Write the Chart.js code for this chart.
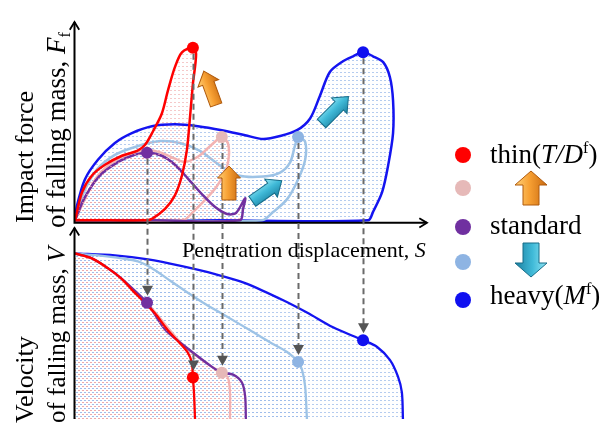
<!DOCTYPE html>
<html>
<head>
<meta charset="utf-8">
<script src="https://cdn.jsdelivr.net/npm/chart.js@4.4.1/dist/chart.umd.min.js"></script>
<style>
  html, body { margin: 0; padding: 0; background: #fff; }
  #wrap { position: relative; width: 610px; height: 425px; }
  canvas { display: block; }
</style>
</head>
<body>
<div id="wrap"><canvas id="c" width="610" height="425" style="width:610px;height:425px"></canvas></div>
<script>
// Five falling-mass cases, from thin (top of legend) to heavy (bottom).
const caseNames = ['thin', 'thin-standard', 'standard', 'standard-heavy', 'heavy'];

// Force–displacement loops [S, Ff] (normalised, thin peak = 100).
const forceThin = [[0,0],[2.0,16.3],[4.8,26.0],[8.5,32.2],[13.3,37.4],[17.6,40.2],[19.8,43.6],[22.1,51.6],[24.6,61.9],[26.3,75.0],[28.3,88.7],[30.3,97.3],[33.4,100],[34.3,96.3],[33.4,79.0],[32.6,60.2],[31.7,40.8],[30.3,26.0],[28.3,14.5],[25.5,6.6],[21.8,0.9],[19.8,0],[10,0],[0,0]];
const forceThinStd = [[0,0],[2.8,12.3],[6.5,26.0],[11.3,34.5],[16.1,39.1],[20.7,40.8],[24.6,39.1],[28.3,35.7],[31.2,33.9],[34.8,36.8],[37.7,41.9],[40.2,46.5],[41.6,48.2],[43.3,44.8],[43.6,37.4],[42.8,29.4],[40.2,19.7],[36.8,11.7],[33.4,4.8],[30.6,0],[15,0],[0,0]];
const forceStandard = [[0,0],[2.8,13.4],[7.1,26.0],[11.9,33.4],[16.1,37.4],[20.4,39.1],[24.6,37.4],[28.3,32.2],[32.0,24.2],[36.0,15.1],[39.7,7.7],[43.1,3.7],[45.6,4.3],[48.2,12.8],[47.6,6.6],[46.7,0],[23,0],[0,0]];
const forceStdHeavy = [[0,0],[2.5,16.3],[6.2,29.4],[11.3,37.9],[17.0,42.5],[24.1,45.9],[29.7,44.8],[35.4,40.2],[41.1,31.7],[46.2,26.0],[53.3,25.4],[58.1,27.7],[60.9,33.4],[62.3,43.1],[63.2,48.2],[65.2,45.4],[65.2,35.1],[63.2,23.7],[60.1,12.3],[56.1,4.8],[53.0,0],[26,0],[0,0]];
const forceHeavy = [[0,0],[0.5,8.0],[2.8,23.7],[6.5,35.1],[11.3,44.8],[16.1,50.5],[21.8,54.5],[28.3,55.6],[34.8,54.5],[41.6,52.2],[48.2,49.3],[53.3,47.1],[58.1,48.8],[62.9,52.2],[66.6,59.0],[69.4,72.2],[72.2,85.9],[75.9,92.1],[78.8,95.0],[81.6,97.3],[84.4,95.0],[87.3,91.6],[89.2,83.0],[90.1,69.3],[90.1,50.5],[88.7,31.7],[87.0,16.3],[84.4,4.8],[83.0,0],[40,0],[0,0]];

// Velocity–displacement curves [S, V] (normalised, impact velocity = 100).
const velThin = [[0,100],[4.8,97.0],[9.3,91.1],[13.3,84.5],[16.4,77.4],[19.8,70.2],[22.7,63.7],[26.3,53.6],[29.7,45.8],[32.0,39.9],[33.1,33.9],[33.4,25.0],[33.7,16.1],[34.0,0]];
const velThinStd = [[0,100],[4.8,97.0],[9.3,91.1],[13.3,84.5],[16.7,77.4],[20.1,70.8],[23.5,62.5],[26.9,53.6],[30.6,44.6],[34.8,37.5],[38.8,31.5],[41.6,28.0],[43.3,25.0],[43.9,16.1],[43.9,0]];
const velStandard = [[0,100],[4.2,97.6],[8.5,92.3],[12.7,85.7],[17.0,77.4],[20.4,70.2],[25.5,54.0],[31.4,43.5],[38.8,31.5],[41.6,28.0],[44.8,26.8],[47.3,22.0],[48.2,13.7],[48.4,0]];
const velStdHeavy = [[0,100],[6.5,98.8],[13.3,97.0],[17.8,95.2],[21.8,91.1],[26.3,84.5],[31.2,77.4],[36.8,69.6],[42.5,62.5],[49.6,53.6],[55.2,46.4],[60.1,40.5],[63.2,34.5],[64.3,29.8],[65.2,19.6],[65.7,0]];
const velHeavy = [[0,100],[11.3,98.8],[20.7,96.4],[30.3,92.3],[39.7,87.5],[48.2,82.1],[58.1,72.6],[65.7,64.3],[73.1,55.4],[81.6,47.6],[85.6,43.5],[89.2,35.7],[91.5,25.6],[92.6,16.1],[92.9,0]];

// Peak force and the velocity at that same displacement.
const peakS = [33.4, 41.6, 20.4, 63.2, 81.6];
const peakF = [100, 48.2, 39.1, 48.2, 97.3];
const peakV = [25.0, 28.0, 70.2, 34.5, 47.6];

const lineColors = ['#ff0000', '#f3b3b3', '#7030a0', '#9dc3e6', '#1414f0'];
const dotColors  = ['#ff0000', '#e6b9b8', '#7030a0', '#8eb4e3', '#1010f0'];

const forceSets = [forceThin, forceThinStd, forceStandard, forceStdHeavy, forceHeavy];
const velSets   = [velThin, velThinStd, velStandard, velStdHeavy, velHeavy];

const SERIF = '"Liberation Serif", "Times New Roman", serif';
const canvas = document.getElementById('c');
const ctx0 = canvas.getContext('2d');

// Dotted hatch used inside the loops and under the velocity curves.
function dotPattern(color, ox, oy) {
  const t = document.createElement('canvas');
  t.width = 4; t.height = 4;
  const g = t.getContext('2d');
  g.fillStyle = color;
  g.fillRect(ox, oy, 2, 1);
  return ctx0.createPattern(t, 'repeat');
}
const redDots = dotPattern('rgba(238,165,165,0.6)', 2, 2);
const blueDots = dotPattern('rgba(150,182,232,0.7)', 0, 0);
const fills = [redDots, redDots, redDots, blueDots, blueDots];

const toXY = a => a.map(([x, y]) => ({ x, y }));
const drawOrder = [0, 2, 1, 3, 4];

const datasets = [
  {
    label: 'peak force',
    data: peakS.map((s, i) => ({ x: s, y: peakF[i] })),
    yAxisID: 'yF', showLine: false,
    pointRadius: 6, pointHoverRadius: 6, pointBorderWidth: 0,
    backgroundColor: dotColors, borderColor: dotColors
  },
  {
    label: 'velocity at peak',
    data: peakS.map((s, i) => ({ x: s, y: peakV[i] })),
    yAxisID: 'yV', showLine: false,
    pointRadius: 6, pointHoverRadius: 6, pointBorderWidth: 0,
    backgroundColor: dotColors, borderColor: dotColors
  }
];
drawOrder.forEach(i => datasets.push({
  label: caseNames[i] + ' force',
  data: toXY(forceSets[i]), yAxisID: 'yF',
  showLine: true, borderColor: lineColors[i], borderWidth: 2.5,
  pointRadius: 0, tension: 0.3, fill: 'shape', backgroundColor: fills[i]
}));
drawOrder.forEach(i => datasets.push({
  label: caseNames[i] + ' velocity',
  data: toXY(velSets[i]), yAxisID: 'yV',
  showLine: true, borderColor: lineColors[i], borderWidth: 2.3,
  pointRadius: 0, tension: 0.3, fill: 'origin', backgroundColor: fills[i]
}));

// Text made of styled runs (italic, sub/superscript).
function drawRuns(ctx, x, y, parts, size) {
  let cx = x;
  for (const p of parts) {
    const s = size * (p.s || 1);
    ctx.font = (p.i ? 'italic ' : '') + s + 'px ' + SERIF;
    ctx.fillText(p.t, cx, y + (p.dy || 0) * size);
    cx += ctx.measureText(p.t).width;
  }
}

function vertical(ctx, x, y, parts, size) {
  ctx.save();
  ctx.translate(x, y);
  ctx.rotate(-Math.PI / 2);
  drawRuns(ctx, 0, 0, parts, size);
  ctx.restore();
}

function blockArrow(ctx, cx, cy, deg, len, headW, shaftW, headLen, pal) {
  ctx.save();
  ctx.translate(cx, cy);
  ctx.rotate(deg * Math.PI / 180);
  const t = -len / 2, b = len / 2, hb = t + headLen;
  ctx.beginPath();
  ctx.moveTo(0, t);
  ctx.lineTo(headW / 2, hb);
  ctx.lineTo(shaftW / 2, hb);
  ctx.lineTo(shaftW / 2, b);
  ctx.lineTo(-shaftW / 2, b);
  ctx.lineTo(-shaftW / 2, hb);
  ctx.lineTo(-headW / 2, hb);
  ctx.closePath();
  const g = ctx.createLinearGradient(-headW / 2, 0, headW / 2, 0);
  g.addColorStop(0, pal[0]);
  g.addColorStop(0.45, pal[1]);
  g.addColorStop(1, pal[2]);
  ctx.fillStyle = g;
  ctx.fill();
  ctx.strokeStyle = pal[3];
  ctx.lineWidth = 1;
  ctx.stroke();
  ctx.restore();
}
const ORANGE = ['#ffd27a', '#f7a033', '#c8690f', '#b05a0c'];
const TEAL = ['#92e6f5', '#40bad8', '#1b7fa0', '#176c88'];

function chevron(ctx, x, y, dx, dy) {
  // open arrow head at (x,y) pointing along (dx,dy)
  const a = Math.atan2(dy, dx), L = 9, w = 0.55;
  ctx.beginPath();
  ctx.moveTo(x - L * Math.cos(a - w), y - L * Math.sin(a - w));
  ctx.lineTo(x, y);
  ctx.lineTo(x - L * Math.cos(a + w), y - L * Math.sin(a + w));
  ctx.stroke();
}

const decor = {
  id: 'decor',
  afterDatasetsDraw(chart) {
    const ctx = chart.ctx;
    const sx = chart.scales.x, yF = chart.scales.yF, yV = chart.scales.yV;
    const ca = chart.chartArea;
    ctx.save();

    // axes
    const ax = sx.getPixelForValue(0) - 0.5;
    const ay = yF.getPixelForValue(0) + 2.5;
    ctx.strokeStyle = '#000';
    ctx.lineWidth = 2;
    ctx.lineCap = 'butt';
    ctx.beginPath();
    ctx.moveTo(ax, ay); ctx.lineTo(ax, ca.top + 2);
    ctx.moveTo(ax - 1, ay); ctx.lineTo(sx.right - 1, ay);
    ctx.moveTo(ax, ca.bottom); ctx.lineTo(ax, ay + 5);
    ctx.stroke();
    ctx.lineWidth = 1.8;
    chevron(ctx, ax, ca.top + 2, 0, -1);
    chevron(ctx, sx.right - 1, ay, 1, 0);
    chevron(ctx, ax, ay + 5, 0, -1);

    // dashed drops from each peak force to the velocity curve
    for (let i = 0; i < peakS.length; i++) {
      const px = Math.round(sx.getPixelForValue(peakS[i])) + 0.5;
      const y0 = yF.getPixelForValue(peakF[i]) + 6;
      const tip = yV.getPixelForValue(peakV[i]) - 7;
      ctx.strokeStyle = '#6a6a6a';
      ctx.lineWidth = 2;
      ctx.setLineDash([6, 4]);
      ctx.beginPath();
      ctx.moveTo(px, y0);
      ctx.lineTo(px, tip - 9);
      ctx.stroke();
      ctx.setLineDash([]);
      ctx.fillStyle = '#555';
      ctx.beginPath();
      ctx.moveTo(px - 5.5, tip - 10);
      ctx.lineTo(px + 5.5, tip - 10);
      ctx.lineTo(px, tip);
      ctx.closePath();
      ctx.fill();
    }

    // trend arrows inside the force plot
    blockArrow(ctx, 210, 88, -20, 36, 22, 12, 13, ORANGE);
    blockArrow(ctx, 229, 183, 0, 34, 23, 14, 12, ORANGE);
    blockArrow(ctx, 267, 191, 55, 36, 22, 12, 13, TEAL);
    blockArrow(ctx, 335, 110, 45, 38, 22, 12, 13, TEAL);
    ctx.restore();
  },
  afterDraw(chart) {
    const ctx = chart.ctx;
    ctx.save();
    ctx.fillStyle = '#000';
    ctx.textBaseline = 'alphabetic';
    ctx.textAlign = 'left';

    // x title
    drawRuns(ctx, 182, 257, [{ t: 'Penetration displacement, ' }, { t: 'S', i: 1 }], 22);

    // y titles, read bottom to top
    vertical(ctx, 33, 223, [{ t: 'Impact force' }], 26);
    vertical(ctx, 65, 228, [{ t: 'of falling mass, ' }, { t: 'F', i: 1 }, { t: 'f', s: 0.6, dy: 0.18 }], 27);
    vertical(ctx, 33, 423, [{ t: 'Velocity' }], 26);
    vertical(ctx, 65, 423, [{ t: 'of falling mass, ' }, { t: 'V', i: 1 }], 25);

    // legend
    const legY = [155, 188, 227, 262, 300];
    legY.forEach((y, i) => {
      ctx.fillStyle = dotColors[i];
      ctx.beginPath(); ctx.arc(463, y, 8, 0, Math.PI * 2); ctx.fill();
    });
    ctx.fillStyle = '#000';
    drawRuns(ctx, 490, 163, [{ t: 'thin(' }, { t: 'T/D', i: 1 }, { t: 'f', s: 0.6, dy: -0.38 }, { t: ')' }], 27);
    drawRuns(ctx, 490, 234, [{ t: 'standard' }], 27);
    drawRuns(ctx, 490, 304, [{ t: 'heavy(' }, { t: 'M', i: 1 }, { t: 'f', s: 0.6, dy: -0.38 }, { t: ')' }], 27);
    blockArrow(ctx, 531, 188, 0, 34, 32, 16, 14, ORANGE);
    blockArrow(ctx, 531, 260, 180, 34, 32, 16, 14, TEAL);
    ctx.restore();
  }
};

new Chart(canvas, {
  type: 'scatter',
  data: { datasets },
  options: {
    responsive: false,
    animation: false,
    devicePixelRatio: 1,
    events: [],
    layout: { padding: { left: 75, right: 182, top: 20, bottom: 0 } },
    plugins: { legend: { display: false }, tooltip: { enabled: false } },
    scales: {
      x: { type: 'linear', min: 0, max: 100, display: false },
      yF: { type: 'linear', position: 'left', min: -115, max: 116, display: false },
      yV: { type: 'linear', position: 'left', min: 0, max: 241, display: false }
    }
  },
  plugins: [decor]
});
</script>
</body>
</html>
